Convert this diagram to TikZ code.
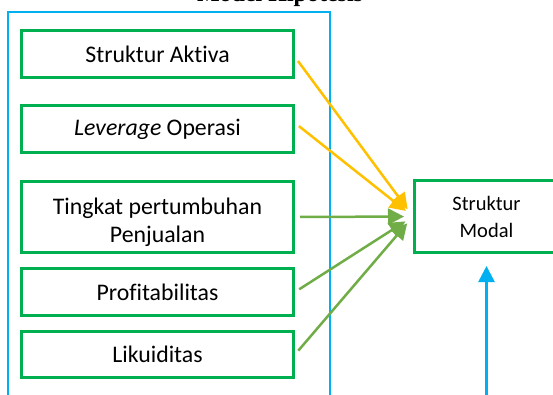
\documentclass[tikz,border=0pt]{standalone}
\usepackage{fontspec}
\setmainfont{Carlito}[Ligatures=CommonOff]
\newfontfamily\judulfont{Liberation Serif}
\usetikzlibrary{arrows.meta}
\definecolor{hijau}{RGB}{0,176,80}
\definecolor{kuning}{RGB}{255,192,0}
\definecolor{hijaumuda}{RGB}{112,173,71}
\definecolor{biru}{RGB}{0,176,240}
\tikzset{
  kotak/.style={draw=hijau, line width=3pt, minimum width=272pt, minimum height=47pt,
    inner sep=0pt, align=center, font=\fontsize{23.8}{28}\selectfont},
  panah/.style={line width=2.5pt, -{Triangle[length=16pt,width=16pt]},
    shorten <=5pt, shorten >=9pt},
}
\begin{document}
\begin{tikzpicture}[x=1pt,y=-1pt]
              \useasboundingbox (0,0) rectangle (553,394);
              \clip (0,0) rectangle (553,394);
              % Judul
              \node[anchor=base, font=\fontsize{24}{28}\selectfont] (0) at (280,1) {\judulfont\bfseries Model Hipotesis};
              \draw[biru, line width=1.2pt] (8,12) rectangle (330,405);

              % Nodi
              \node[kotak] (1) at (157.5,54) {Struktur Aktiva};
              \node[kotak] (2) at (157.5,129) {\textit{Leverage} Operasi};
              \node[kotak, minimum height=71pt] (3) at (157.5,217) {\rule{0pt}{28pt}Tingkat pertumbuhan\\Penjualan};
              \node[kotak] (4) at (157.5,292) {Profitabilitas};
              \node[kotak, minimum height=46pt] (5) at (157.5,354.5) {Likuiditas};
              \node[kotak, minimum width=144pt, minimum height=72pt,
                font=\fontsize{20.5}{27}\selectfont] (6) at (486.5,216.5) {Struktur\\Modal};
              \coordinate (7) at (486.5,405);

              % Archi
              \draw[panah, kuning] ([yshift=-3pt]1.east) -- (6.west);
              \draw[panah, kuning] ([yshift=6pt]2.east) -- (6.west);
              \draw[panah, hijaumuda] (3.east) -- (6.west);
              \draw[panah, hijaumuda] (4.east) -- (6.west);
              \draw[panah, hijaumuda] (5.east) -- (6.west);
              \draw[panah, biru, shorten >=12pt, shorten <=0pt] (7) -- (6.south);
\end{tikzpicture}
\end{document}
